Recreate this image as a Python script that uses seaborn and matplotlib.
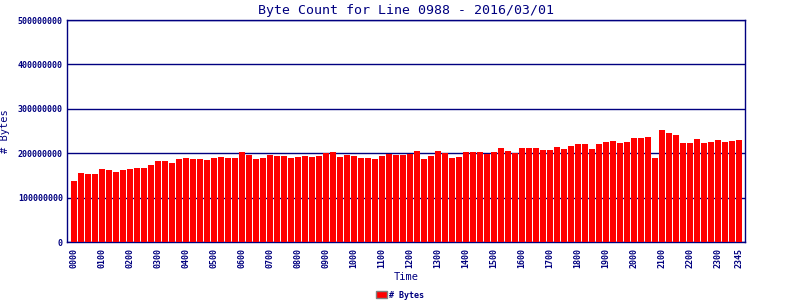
import matplotlib
matplotlib.use("Agg")
import matplotlib.pyplot as plt
import seaborn as sns
import pandas as pd
from matplotlib.patches import Patch

# ---- data ----
times = ["%02d%02d" % (h, m) for h in range(24) for m in (0, 15, 30, 45)]
bytes_m = [137, 156, 154, 154, 165, 163, 158, 163, 165, 167, 167, 174, 183, 183, 179, 188,
           189, 187, 187, 185, 189, 191, 189, 189, 203, 196, 187, 189, 196, 194, 194, 189,
           191, 194, 191, 194, 200, 203, 191, 196, 194, 189, 189, 187, 194, 198, 196, 196,
           198, 205, 187, 194, 205, 200, 189, 191, 203, 203, 203, 198, 203, 212, 205, 200,
           212, 212, 212, 207, 207, 214, 209, 216, 221, 221, 209, 221, 225, 227, 223, 225,
           234, 234, 236, 189, 252, 245, 241, 223, 223, 232, 223, 225, 230, 225, 227, 230]
byte_counts = [v * 1_000_000 for v in bytes_m]
x_tick_labels = ["0000", "0100", "0200", "0300", "0400", "0500", "0600", "0700",
                 "0800", "0900", "1000", "1100", "1200", "1300", "1400", "1500",
                 "1600", "1700", "1800", "1900", "2000", "2100", "2200", "2300", "2345"]
y_ticks = [0, 100000000, 200000000, 300000000, 400000000, 500000000]
title = "Byte Count for Line 0988 - 2016/03/01"

df = pd.DataFrame({"Time": times, "Bytes": byte_counts})

NAVY = "#000080"
sns.set_style("white")
plt.rcParams["font.family"] = ["DejaVu Sans Mono", "DejaVu Sans"]

fig = plt.figure(figsize=(8, 3), dpi=100)
ax = fig.add_axes([67 / 800, 1 - 242 / 300, (745 - 67) / 800, (242 - 20) / 300])

sns.barplot(data=df, x="Time", y="Bytes", order=times, color="#FF0000",
            saturation=1, width=0.86, ax=ax, zorder=3, linewidth=0)

ax.set_xlim(-1.0, 95.9)
ax.set_ylim(0, 500000000)
ax.set_yticks(y_ticks)
ax.set_yticklabels([str(v) for v in y_ticks], fontsize=6, fontweight="bold", color=NAVY)

tick_pos = [times.index(t) for t in x_tick_labels]
ax.set_xticks(tick_pos)
ax.set_xticklabels(x_tick_labels, rotation=90, fontsize=6, fontweight="bold", color=NAVY)

ax.grid(axis="y", color=NAVY, linewidth=1.0, zorder=0)
ax.set_axisbelow(True)
for s in ax.spines.values():
    s.set_color(NAVY)
    s.set_linewidth(1.0)
    s.set_visible(True)

ax.tick_params(axis="y", direction="in", length=3, color=NAVY, pad=3)
ax.tick_params(axis="x", direction="out", length=0, color=NAVY, pad=4)

ax.set_xlabel("Time", fontsize=7.5, color=NAVY, labelpad=3)
ax.set_ylabel("# Bytes", fontsize=7.5, color=NAVY, labelpad=6)
ax.set_title(title, fontsize=9.5, color=NAVY, pad=4)

handle = Patch(facecolor="#FF0000", edgecolor="#808080", linewidth=1, label="# Bytes")
leg = fig.legend(handles=[handle], loc="center", bbox_to_anchor=(0.5, 1 - 295 / 300),
                 frameon=False, fontsize=6, handlelength=1.3, handleheight=0.9,
                 handletextpad=0.3, borderpad=0, borderaxespad=0)
for t in leg.get_texts():
    t.set_color(NAVY)
    t.set_fontweight("bold")

fig.savefig("out.png", dpi=100)
